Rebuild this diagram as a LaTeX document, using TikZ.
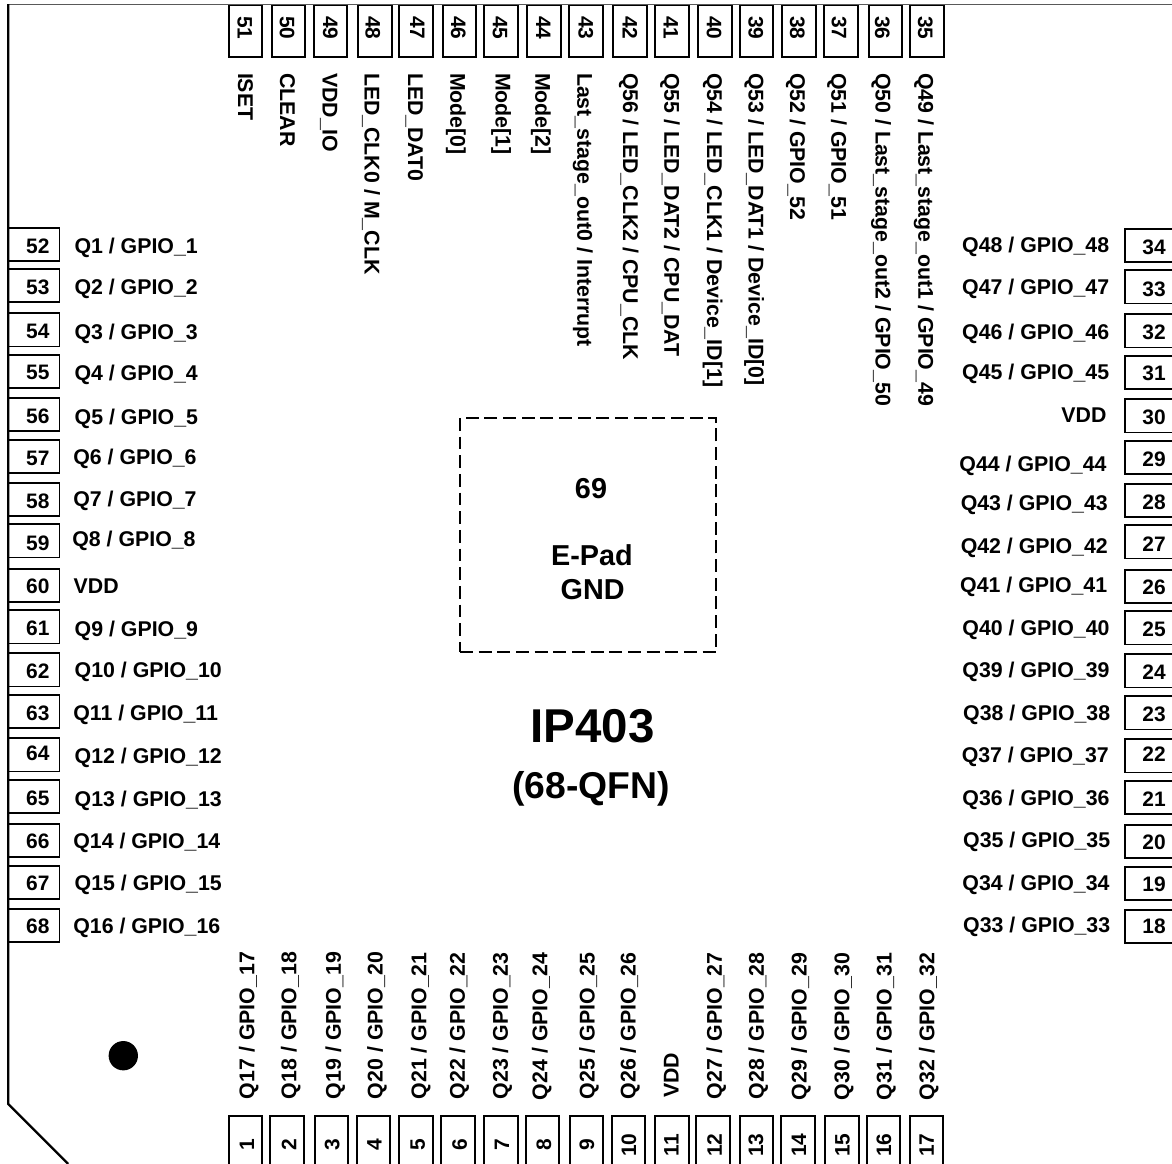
\documentclass[tikz,border=0pt]{standalone}
\usepackage{fontspec}
\setmainfont{Liberation Sans}
\newcommand\fsz[1]{\fontsize{#1}{#1}\selectfont\bfseries}
\tikzset{
  x=0.75pt,y=-0.75pt,
  pinbox/.style={draw=black,line width=1.35pt,inner sep=0pt,outer sep=0pt,fill=white},
  hpinbox/.style={pinbox,minimum width=38.6pt,minimum height=24.85pt},
  vpinbox/.style={pinbox,minimum width=25.25pt,minimum height=38.6pt},
  txt/.style={inner sep=0pt,outer sep=0pt,text=black,font=\fsz{16}},
  numtxt/.style={inner sep=0pt,outer sep=0pt,text=black,font=\fsz{15.7}},
  outline/.style={line width=1.7pt,draw=black,line join=miter},
  pad/.style={draw=black,line width=1.8pt,dash pattern=on 9.7pt off 4.3pt,inner sep=0pt,outer sep=0pt,minimum width=192.2pt,minimum height=175.5pt},
}
% number, box top, number centre y, label x, label centre y, label
\newcommand\leftpin[6]{%
  \node[hpinbox] (p#1) at (33.75,{#2+16.55}) {};
  \node[numtxt,anchor=base] (n#1) at (37.8,{#3+7.5}) {#1};
  \node[txt,anchor=base west] (l#1) at ({#4-1},{#5+7.6}) {#6};
}
\newcommand\rightpin[6]{%
  \node[hpinbox] (p#1) at (1151,{#2+16.55}) {};
  \node[numtxt,anchor=base] (n#1) at (1154,{#3+7.5}) {#1};
  \node[txt,anchor=base east] (l#1) at ({#4+0.5},{#5+7.6}) {#6};
}
% number, box left, number centre x, label centre x, label
\newcommand\toppin[5]{%
  \node[vpinbox] (p#1) at ({#2+16.85},31) {};
  \node[numtxt,rotate=-90,anchor=base] (n#1) at ({#3-7.5},28) {#1};
  \node[txt,rotate=-90,anchor=base west] (l#1) at ({#4-7.6},73) {#5};
}
\newcommand\botpin[6]{%
  \node[vpinbox] (p#1) at ({#2+16.85},1142) {};
  \node[numtxt,rotate=90,anchor=base] (n#1) at ({#3+7.5},1145) {#1};
  \node[txt,rotate=90,anchor=base west] (l#1) at ({#4+7.6},{#5+1}) {#6};
}
\begin{document}
\begin{tikzpicture}
\path[use as bounding box] (0,0) rectangle (1172,1164);
\begin{scope}
\clip (0,0) rectangle (1172,1164);
\coordinate (tr) at (1172,4.2);
\coordinate (tl) at (8.2,4.2);
\coordinate (cb) at (8.2,1104);
\coordinate (cd) at (68.2,1164);

\leftpin{52}{227.7}{246}{75.5}{246}{Q1 / GPIO\_1}
\leftpin{53}{269}{287.3}{75.5}{287.3}{Q2 / GPIO\_2}
\leftpin{54}{313.3}{331}{75.5}{332.3}{Q3 / GPIO\_3}
\leftpin{55}{355}{372.3}{75.5}{373.3}{Q4 / GPIO\_4}
\leftpin{56}{398}{416}{75.7}{417.3}{Q5 / GPIO\_5}
\leftpin{57}{439.7}{458}{74.3}{457}{Q6 / GPIO\_6}
\leftpin{58}{483}{501}{74.3}{499.3}{Q7 / GPIO\_7}
\leftpin{59}{524.3}{542.7}{73.3}{539}{Q8 / GPIO\_8}
\leftpin{60}{568.7}{585.7}{74.7}{585.7}{VDD}
\leftpin{61}{610.3}{627.7}{75.7}{629}{Q9 / GPIO\_9}
\leftpin{62}{653.3}{671}{75.7}{670}{Q10 / GPIO\_10}
\leftpin{63}{694.7}{712.7}{74.3}{713.3}{Q11 / GPIO\_11}
\leftpin{64}{738.3}{753}{75.7}{756}{Q12 / GPIO\_12}
\leftpin{65}{779.7}{797.7}{75.7}{798.7}{Q13 / GPIO\_13}
\leftpin{66}{824}{841}{74.3}{841}{Q14 / GPIO\_14}
\leftpin{67}{866}{883.3}{75.7}{882.7}{Q15 / GPIO\_15}
\leftpin{68}{908.7}{925.7}{74.3}{925.7}{Q16 / GPIO\_16}

\rightpin{34}{228.7}{246.7}{1108.7}{245}{Q48 / GPIO\_48}
\rightpin{33}{270.3}{288.7}{1108.7}{286.7}{Q47 / GPIO\_47}
\rightpin{32}{314.3}{332}{1108.7}{331.7}{Q46 / GPIO\_46}
\rightpin{31}{356}{373.3}{1108.7}{372.3}{Q45 / GPIO\_45}
\rightpin{30}{399.3}{416.7}{1106}{415}{VDD}
\rightpin{29}{440.7}{459}{1106}{463.7}{Q44 / GPIO\_44}
\rightpin{28}{484}{502}{1107.3}{502.7}{Q43 / GPIO\_43}
\rightpin{27}{525.3}{544}{1107.3}{545.7}{Q42 / GPIO\_42}
\rightpin{26}{570}{586.7}{1106.7}{585.3}{Q41 / GPIO\_41}
\rightpin{25}{611.3}{628.7}{1109}{628}{Q40 / GPIO\_40}
\rightpin{24}{654.3}{672.3}{1109}{670}{Q39 / GPIO\_39}
\rightpin{23}{696.3}{714}{1109.7}{713}{Q38 / GPIO\_38}
\rightpin{22}{739.3}{754}{1108.3}{755}{Q37 / GPIO\_37}
\rightpin{21}{781}{798.7}{1109}{797.7}{Q36 / GPIO\_36}
\rightpin{20}{825}{841.7}{1109.7}{840}{Q35 / GPIO\_35}
\rightpin{19}{866.7}{883.7}{1109}{882.7}{Q34 / GPIO\_34}
\rightpin{18}{909.7}{926.3}{1109.7}{925}{Q33 / GPIO\_33}

\toppin{51}{228.7}{245}{245.7}{ISET}
\toppin{50}{271.7}{287.3}{287.7}{CLEAR}
\toppin{49}{313.7}{330.7}{330.3}{VDD\_IO}
\toppin{48}{358}{373}{372.3}{LED\_CLK0 / M\_CLK}
\toppin{47}{399.3}{417.7}{415.7}{LED\_DAT0}
\toppin{46}{442.7}{458.7}{458}{Mode[0]}
\toppin{45}{484.3}{500.3}{503.3}{Mode[1]}
\toppin{44}{527}{543.7}{543}{Mode[2]}
\toppin{43}{569}{586}{585}{Last\_stage\_out0 / Interrupt}
\toppin{42}{613.3}{630}{630.7}{Q56 / LED\_CLK2 / CPU\_CLK}
\toppin{41}{655}{671}{672}{Q55 / LED\_DAT2 / CPU\_DAT}
\toppin{40}{698}{714.3}{714.7}{Q54 / LED\_CLK1 / Device\_ID[1]}
\toppin{39}{739.7}{756}{756.3}{Q53 / LED\_DAT1 / Device\_ID[0]}
\toppin{38}{782.3}{797.7}{797.7}{Q52 / GPIO\_52}
\toppin{37}{824}{839.3}{839}{Q51 / GPIO\_51}
\toppin{36}{868.7}{882.7}{883.3}{Q50 / Last\_stage\_out2 / GPIO\_50}
\toppin{35}{910.3}{925.7}{926}{Q49 / Last\_stage\_out1 / GPIO\_49}

\botpin{1}{228.7}{246.7}{246.7}{1098}{Q17 / GPIO\_17}
\botpin{2}{270.3}{288.8}{288.8}{1098}{Q18 / GPIO\_18}
\botpin{3}{314.7}{331.8}{333.3}{1098}{Q19 / GPIO\_19}
\botpin{4}{356.7}{374}{375}{1098}{Q20 / GPIO\_20}
\botpin{5}{399.3}{417.3}{418.7}{1098.3}{Q21 / GPIO\_21}
\botpin{6}{441}{459.3}{457.3}{1098.3}{Q22 / GPIO\_22}
\botpin{7}{484}{501.7}{500.3}{1098.3}{Q23 / GPIO\_23}
\botpin{8}{525.7}{543.7}{539.7}{1099}{Q24 / GPIO\_24}
\botpin{9}{569.7}{586.7}{587}{1098.3}{Q25 / GPIO\_25}
\botpin{10}{611.7}{628.7}{628}{1098.3}{Q26 / GPIO\_26}
\botpin{11}{655}{671}{671}{1096.7}{VDD}
\botpin{12}{696.3}{714.3}{714.3}{1098.3}{Q27 / GPIO\_27}
\botpin{13}{739.7}{755.7}{756.3}{1098.3}{Q28 / GPIO\_28}
\botpin{14}{781}{798.7}{799}{1099}{Q29 / GPIO\_29}
\botpin{15}{825.3}{842}{841.7}{1099}{Q30 / GPIO\_30}
\botpin{16}{866.7}{883.7}{884}{1099}{Q31 / GPIO\_31}
\botpin{17}{909.7}{926.3}{926.7}{1099}{Q32 / GPIO\_32}

\draw[line width=1pt,draw=black!65] (tr) -- (tl);
\draw[outline] (tl) -- (cb) -- (cd);

\node[pad] (epad) at (588.15,534.7) {};
\node[txt,font=\fsz{21.6},anchor=base] (n69) at (591,{488.3+10.3}) {69};
\node[txt,font=\fsz{21.6},anchor=base] (epadtxt) at (592,{555+10.3}) {E-Pad};
\node[txt,font=\fsz{21.6},anchor=base] (gnd) at (592.7,{589.3+10.3}) {GND};
\node[txt,font=\fsz{35.6},anchor=base] (title) at (592.7,{725+17}) {IP403};
\node[txt,font=\fsz{28},anchor=base] (pkg) at (591.3,{785+13.5}) {(68-QFN)};
\node[circle,fill=black,inner sep=0pt,outer sep=0pt,minimum size=22pt] (dot) at (123.3,1055.7) {};
\end{scope}
\end{tikzpicture}
\end{document}
